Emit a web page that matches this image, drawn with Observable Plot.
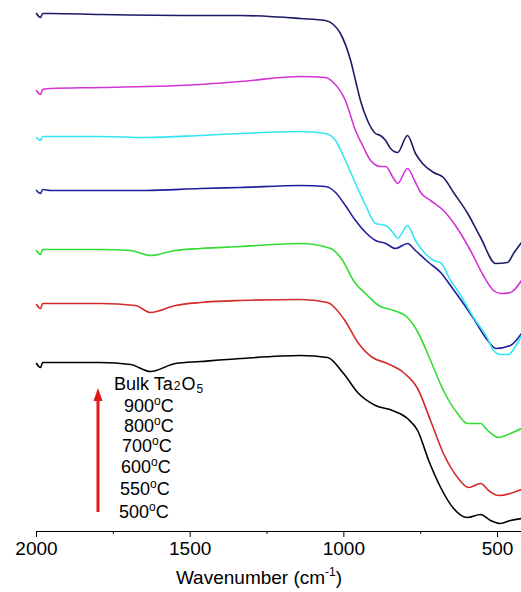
<!DOCTYPE html>
<html>
<head>
<meta charset="utf-8">
<script src="https://cdn.jsdelivr.net/npm/d3@7"></script>
<script src="https://cdn.jsdelivr.net/npm/@observablehq/plot@0.6"></script>
<style>
  html, body { margin: 0; padding: 0; background: #fff; }
  #chart svg { display: block; }
</style>
</head>
<body>
<div id="chart"></div>
<script>
// [wavenumber (cm^-1), transmittance (a.u., offset)]
const bulkTa2O5 = [[2000,518],[1987,514],[1980,518],[1954,518],[1792,517],[1466,516],[1336,516],[1141,513],[1060,511],[1034,507],[1011,498],[978,471],[962,451],[946,431],[923,411],[897,398],[881,396],[864,391],[848,383],[825,379],[793,396],[767,378],[744,368],[708,359],[676,354],[643,339],[597,318],[555,294],[506,268],[467,269],[448,278],[422,289]];
const t900 = [[2000,441],[1987,437],[1980,442],[1954,443],[1792,444],[1466,447],[1336,450],[1141,455],[1060,454],[1034,449],[995,431],[962,401],[939,386],[913,371],[881,365],[864,365],[838,353],[825,348],[793,363],[767,349],[750,339],[718,331],[676,321],[637,306],[588,281],[546,256],[513,241],[490,238],[458,239],[422,251]];
const t800 = [[2000,394],[1987,391],[1980,395],[1954,395],[1792,395],[1645,394],[1466,396],[1336,398],[1141,400],[1060,398],[1027,391],[995,371],[962,348],[929,326],[897,308],[864,306],[838,298],[825,293],[793,306],[767,291],[744,281],[708,271],[685,269],[653,251],[630,241],[578,214],[532,193],[513,181],[490,177],[464,177],[440,186],[422,196]];
const t700 = [[2000,341],[1987,338],[1980,342],[1954,341],[1792,341],[1645,341],[1466,343],[1336,344],[1141,346],[1060,345],[1027,339],[995,326],[962,311],[929,299],[897,291],[864,288],[832,283],[793,288],[767,281],[724,269],[685,259],[653,246],[578,213],[532,191],[506,183],[458,186],[422,198]];
const t600 = [[2000,281],[1987,277],[1980,282],[1954,282],[1792,282],[1694,281],[1629,276],[1548,281],[1466,283],[1336,285],[1141,288],[1043,283],[1004,271],[969,251],[923,236],[887,226],[838,221],[793,214],[757,198],[718,171],[676,141],[630,118],[598,108],[555,108],[532,101],[497,94],[458,98],[422,103]];
const t550 = [[2000,227],[1987,223],[1980,228],[1954,228],[1792,228],[1678,226],[1629,219],[1548,226],[1466,229],[1336,231],[1141,232],[1053,229],[1001,213],[952,188],[907,174],[858,168],[806,159],[760,143],[718,111],[676,78],[630,54],[594,44],[555,48],[529,41],[497,36],[458,38],[422,42]];
const t500 = [[2000,168],[1987,164],[1980,169],[1954,169],[1792,169],[1694,167],[1629,160],[1548,168],[1466,170],[1336,173],[1141,176],[1053,174],[1001,158],[952,138],[897,126],[842,121],[793,113],[760,101],[724,71],[685,44],[643,23],[598,14],[555,17],[523,11],[490,8],[458,11],[422,13]];

const seriesColors = ["#000000", "#d42a2a", "#33dd33", "#1f1f9e", "#33e6f0", "#d433d4", "#1b1b66"];
const seriesData = [t500, t550, t600, t700, t800, t900, bulkTa2O5];
const tempLabels = ["900", "800", "700", "600", "550", "500"];
const majorTicks = [2000, 1500, 1000, 500];
const minorTicks = [1750, 1250, 750];

const FONT = "'Liberation Sans', Arial, Helvetica, sans-serif";

const lineMarks = seriesData.map((s, i) => Plot.line(s, {
  x: d => d[0], y: d => d[1], stroke: seriesColors[i], strokeWidth: 1.6, curve: "monotone-x"
}));

const plot = Plot.plot({
  width: 521,
  height: 592,
  marginLeft: 36,
  marginRight: 0,
  marginTop: 0,
  marginBottom: 61,
  style: { fontFamily: FONT, background: "#fff", overflow: "visible" },
  x: { domain: [2000, 422], label: null },
  y: { domain: [0, 531], axis: null },
  marks: [
    ...lineMarks,
    Plot.ruleY([0], { stroke: "#000", strokeWidth: 1 }),
    Plot.axisX({ ticks: majorTicks, tickSize: 6, tickPadding: 4, fontSize: 19, tickFormat: d => String(d), label: null, strokeWidth: 1 }),
    Plot.axisX({ ticks: minorTicks, tickSize: 3, tickFormat: () => "", label: null, strokeWidth: 1 })
  ]
});

document.getElementById("chart").appendChild(plot);

const svg = d3.select(plot);

// axis title
const title = svg.append("text")
  .attr("x", 259).attr("y", 584)
  .attr("text-anchor", "middle")
  .attr("font-family", FONT).attr("font-size", 19).attr("fill", "#000");
title.append("tspan").text("Wavenumber (cm");
title.append("tspan").attr("dy", -8).attr("font-size", 12).text("-1");
title.append("tspan").attr("dy", 8).text(")");

// legend text
const g = svg.append("g").attr("font-family", FONT).attr("fill", "#000").attr("text-anchor", "start");
const bulk = g.append("text").attr("x", 114).attr("y", 390).attr("font-size", 18);
bulk.append("tspan").text("Bulk Ta");
bulk.append("tspan").attr("font-size", 12).attr("dx", 1).attr("dy", 0).text("2");
bulk.append("tspan").attr("dx", 1).attr("dy", 0).text("O");
bulk.append("tspan").attr("font-size", 12).attr("dx", 1).attr("dy", 3).text("5");

const baselines = [412, 432, 452, 473, 495, 518];
const lefts = [124, 124, 122, 121, 120, 119];
tempLabels.forEach((t, i) => {
  const el = g.append("text").attr("x", lefts[i]).attr("y", baselines[i]).attr("font-size", 18);
  el.append("tspan").text(t);
  el.append("tspan").attr("font-size", 12).attr("dy", -7).text("o");
  el.append("tspan").attr("dy", 7).text("C");
});

// red arrow
svg.append("line").attr("x1", 98).attr("x2", 98).attr("y1", 512).attr("y2", 398)
  .attr("stroke", "#e01818").attr("stroke-width", 3);
svg.append("path").attr("d", "M98,388 L102.5,401 L93.5,401 Z").attr("fill", "#e01818");
</script>
</body>
</html>
